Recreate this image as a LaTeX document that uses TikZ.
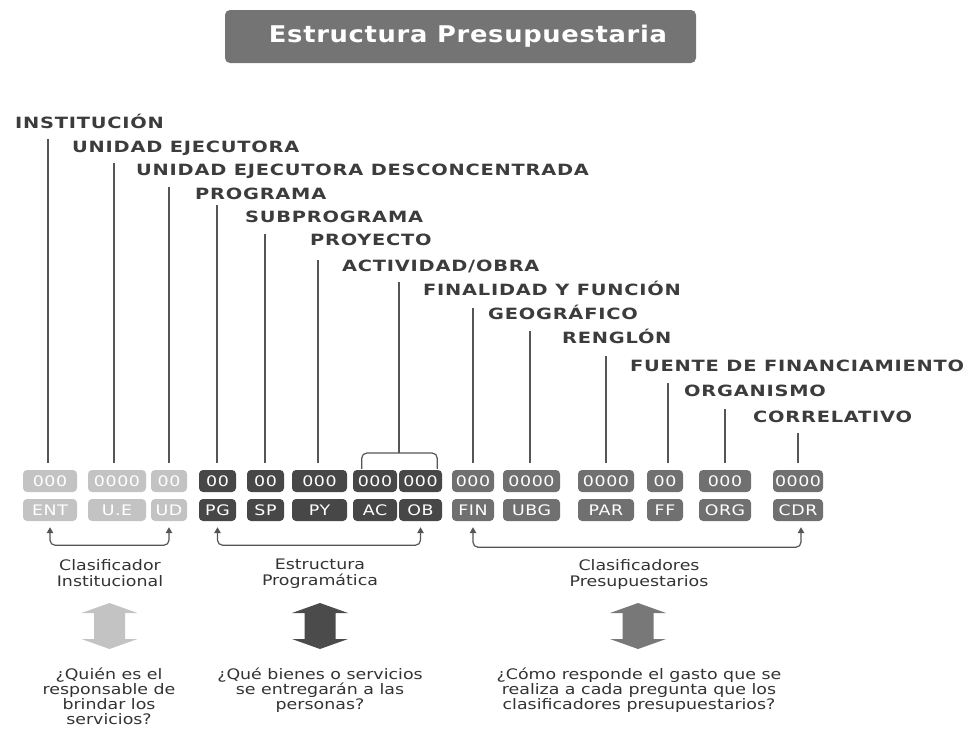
\documentclass[tikz,border=0pt]{standalone}
\usepackage{fontspec}
\usetikzlibrary{arrows.meta,calc}
\newfontfamily\labf[FakeStretch=1.25,LetterSpace=5]{DejaVu Sans Bold}
\newfontfamily\titf[FakeStretch=1.12,LetterSpace=3]{DejaVu Sans Bold}
\newfontfamily\boxf[FakeStretch=1.2,LetterSpace=4]{DejaVu Sans}
\newfontfamily\txtf[FakeStretch=1.2]{DejaVu Sans}
\definecolor{labc}{HTML}{3C3C3C}
\definecolor{linec}{HTML}{555555}
\definecolor{txtc}{HTML}{333333}
\definecolor{titc}{HTML}{747474}
\definecolor{lightc}{HTML}{C3C3C3}
\definecolor{darkc}{HTML}{474747}
\definecolor{medc}{HTML}{707070}
\definecolor{alight}{HTML}{C3C3C3}
\definecolor{adark}{HTML}{4B4B4B}
\definecolor{amed}{HTML}{787878}
\begin{document}
\begin{tikzpicture}[x=1pt,y=-1pt,
  lab/.style={anchor=base west, inner sep=0pt, font=\labf\fontsize{15.5}{18}\selectfont, text=labc},
  vline/.style={draw=linec, line width=1.2pt},
  cbox/.style={rounded corners=4pt, minimum height=22pt, inner sep=0pt, text=white,
    font=\boxf\fontsize{14.5}{16}\selectfont},
  lightb/.style={cbox, fill=lightc},
  darkb/.style={cbox, fill=darkc},
  medb/.style={cbox, fill=medc},
  barr/.style={draw=linec, line width=1.2pt, rounded corners=5pt,
    {Triangle[length=6pt,width=6.5pt]}-{Triangle[length=6pt,width=6.5pt]}},
  btxt/.style={anchor=north, inner sep=0pt, align=center, text=txtc,
    font=\txtf\fontsize{14.5}{16}\selectfont},
  qtxt/.style={anchor=north, inner sep=0pt, align=center, text=txtc,
    font=\txtf\fontsize{14.5}{15}\selectfont},
  bigarr/.pic={\fill (0,-23) -- (28,-13) -- (15.5,-13) -- (15.5,13) -- (28,13) -- (0,23)
     -- (-28,13) -- (-15.5,13) -- (-15.5,-13) -- (-28,-13) -- cycle;}
]
\useasboundingbox (0,0) rectangle (976,729);

% title
\node[fill=titc, rounded corners=5pt, minimum width=471pt, minimum height=53pt, inner sep=0pt] (title) at (460.5,36.5) {};
\node[inner sep=0pt, text=white, font=\titf\fontsize{23}{26}\selectfont] (titletext) at (468,36.5) {Estructura Presupuestaria};

% labels
\node[lab] (lINST) at (15,128) {INSTITUCIÓN};
\node[lab] (lUE) at (72,152.5) {UNIDAD EJECUTORA};
\node[lab] (lUED) at (136,175) {UNIDAD EJECUTORA DESCONCENTRADA};
\node[lab] (lPG) at (195,199) {PROGRAMA};
\node[lab] (lSP) at (245,222.5) {SUBPROGRAMA};
\node[lab] (lPY) at (310,245) {PROYECTO};
\node[lab] (lACT) at (342,271) {ACTIVIDAD/OBRA};
\node[lab] (lFIN) at (423,295.5) {FINALIDAD Y FUNCIÓN};
\node[lab] (lGEO) at (488,319.5) {GEOGRÁFICO};
\node[lab] (lREN) at (562,343.5) {RENGLÓN};
\node[lab] (lFF) at (630,371) {FUENTE DE FINANCIAMIENTO};
\node[lab] (lORG) at (684,396.5) {ORGANISMO};
\node[lab] (lCDR) at (753,422.5) {CORRELATIVO};

% line tops
\coordinate (tINST) at (48,139);
\coordinate (tUE) at (114,163);
\coordinate (tUED) at (169,187);
\coordinate (tPG) at (217,205);
\coordinate (tSP) at (265,234);
\coordinate (tPY) at (318,260);
\coordinate (tACT) at (399,282);
\coordinate (bACT) at (399,453);
\coordinate (tFIN) at (473,308);
\coordinate (tGEO) at (530,331);
\coordinate (tREN) at (606,356);
\coordinate (tFF) at (668,383);
\coordinate (tORG) at (725,409);
\coordinate (tCDR) at (798,433);

% value row
\node[lightb, minimum width=54pt] (vENT) at (50,481) {000};
\node[lightb, minimum width=58pt] (vUE) at (117,481) {0000};
\node[lightb, minimum width=36pt] (vUD) at (169,481) {00};
\node[darkb, minimum width=37pt] (vPG) at (217.5,481) {00};
\node[darkb, minimum width=37pt] (vSP) at (265.5,481) {00};
\node[darkb, minimum width=55pt] (vPY) at (319.5,481) {000};
\node[darkb, minimum width=44pt] (vAC) at (375,481) {000};
\node[darkb, minimum width=43pt] (vOB) at (420.5,481) {000};
\node[medb, minimum width=42pt] (vFIN) at (473,481) {000};
\node[medb, minimum width=57pt] (vUBG) at (531.5,481) {0000};
\node[medb, minimum width=56pt] (vPAR) at (606,481) {0000};
\node[medb, minimum width=36pt] (vFF) at (665,481) {00};
\node[medb, minimum width=52pt] (vORG) at (725,481) {000};
\node[medb, minimum width=50pt] (vCDR) at (798,481) {0000};

% code row
\node[lightb, minimum width=54pt] (cENT) at (50,510) {ENT};
\node[lightb, minimum width=58pt] (cUE) at (117,510) {U.E};
\node[lightb, minimum width=36pt] (cUD) at (169,510) {UD};
\node[darkb, minimum width=37pt] (cPG) at (217.5,510) {PG};
\node[darkb, minimum width=37pt] (cSP) at (265.5,510) {SP};
\node[darkb, minimum width=55pt] (cPY) at (319.5,510) {PY};
\node[darkb, minimum width=44pt] (cAC) at (375,510) {AC};
\node[darkb, minimum width=43pt] (cOB) at (420.5,510) {OB};
\node[medb, minimum width=42pt] (cFIN) at (473,510) {FIN};
\node[medb, minimum width=57pt] (cUBG) at (531.5,510) {UBG};
\node[medb, minimum width=56pt] (cPAR) at (606,510) {PAR};
\node[medb, minimum width=36pt] (cFF) at (665,510) {FF};
\node[medb, minimum width=52pt] (cORG) at (725,510) {ORG};
\node[medb, minimum width=50pt] (cCDR) at (798,510) {CDR};

% vertical lines
\foreach \t/\b in {INST/ENT, UE/UE, UED/UD, PG/PG, SP/SP, PY/PY, FIN/FIN, GEO/UBG, REN/PAR, FF/FF, ORG/ORG, CDR/CDR}
  \draw[vline] (t\t) -- ($(t\t |- v\b.north)+(0,-7)$);
\draw[vline] (tACT) -- (bACT);
\draw[vline, rounded corners=5pt] ($(vAC.north west)+(9,-1)$) |- (bACT) -| ($(vOB.north east)+(-5,-1)$);

% bottom arrows
\draw[barr] ($(cENT.south)+(0,6)$) -- ++(0,18) -| ($(cUD.south)+(0,6)$);
\draw[barr] ($(cPG.south)+(0,6)$) -- ++(0,18) -| ($(cOB.south)+(0,6)$);
\draw[barr] ($(cFIN.south)+(0,6)$) -- ++(0,20) -| ($(cCDR.south)+(3,6)$);

% group texts
\node[btxt] (gInst) at (110,559) {Clasificador\\Institucional};
\node[btxt] (gProg) at (320,559) {Estructura\\Programática};
\node[btxt] (gPres) at (639,559) {Clasificadores\\Presupuestarios};

% big arrows
\pic[fill=alight] at (109.5,626) {bigarr};
\pic[fill=adark] at (320,626) {bigarr};
\pic[fill=amed] at (638,626) {bigarr};

% questions
\node[qtxt] (qInst) at (109,668) {¿Quién es el\\responsable de\\brindar los\\servicios?};
\node[qtxt] (qProg) at (320,668) {¿Qué bienes o servicios\\se entregarán a las\\personas?};
\node[qtxt] (qPres) at (639,668) {¿Cómo responde el gasto que se\\realiza a cada pregunta que los\\clasificadores presupuestarios?};
\end{tikzpicture}
\end{document}
